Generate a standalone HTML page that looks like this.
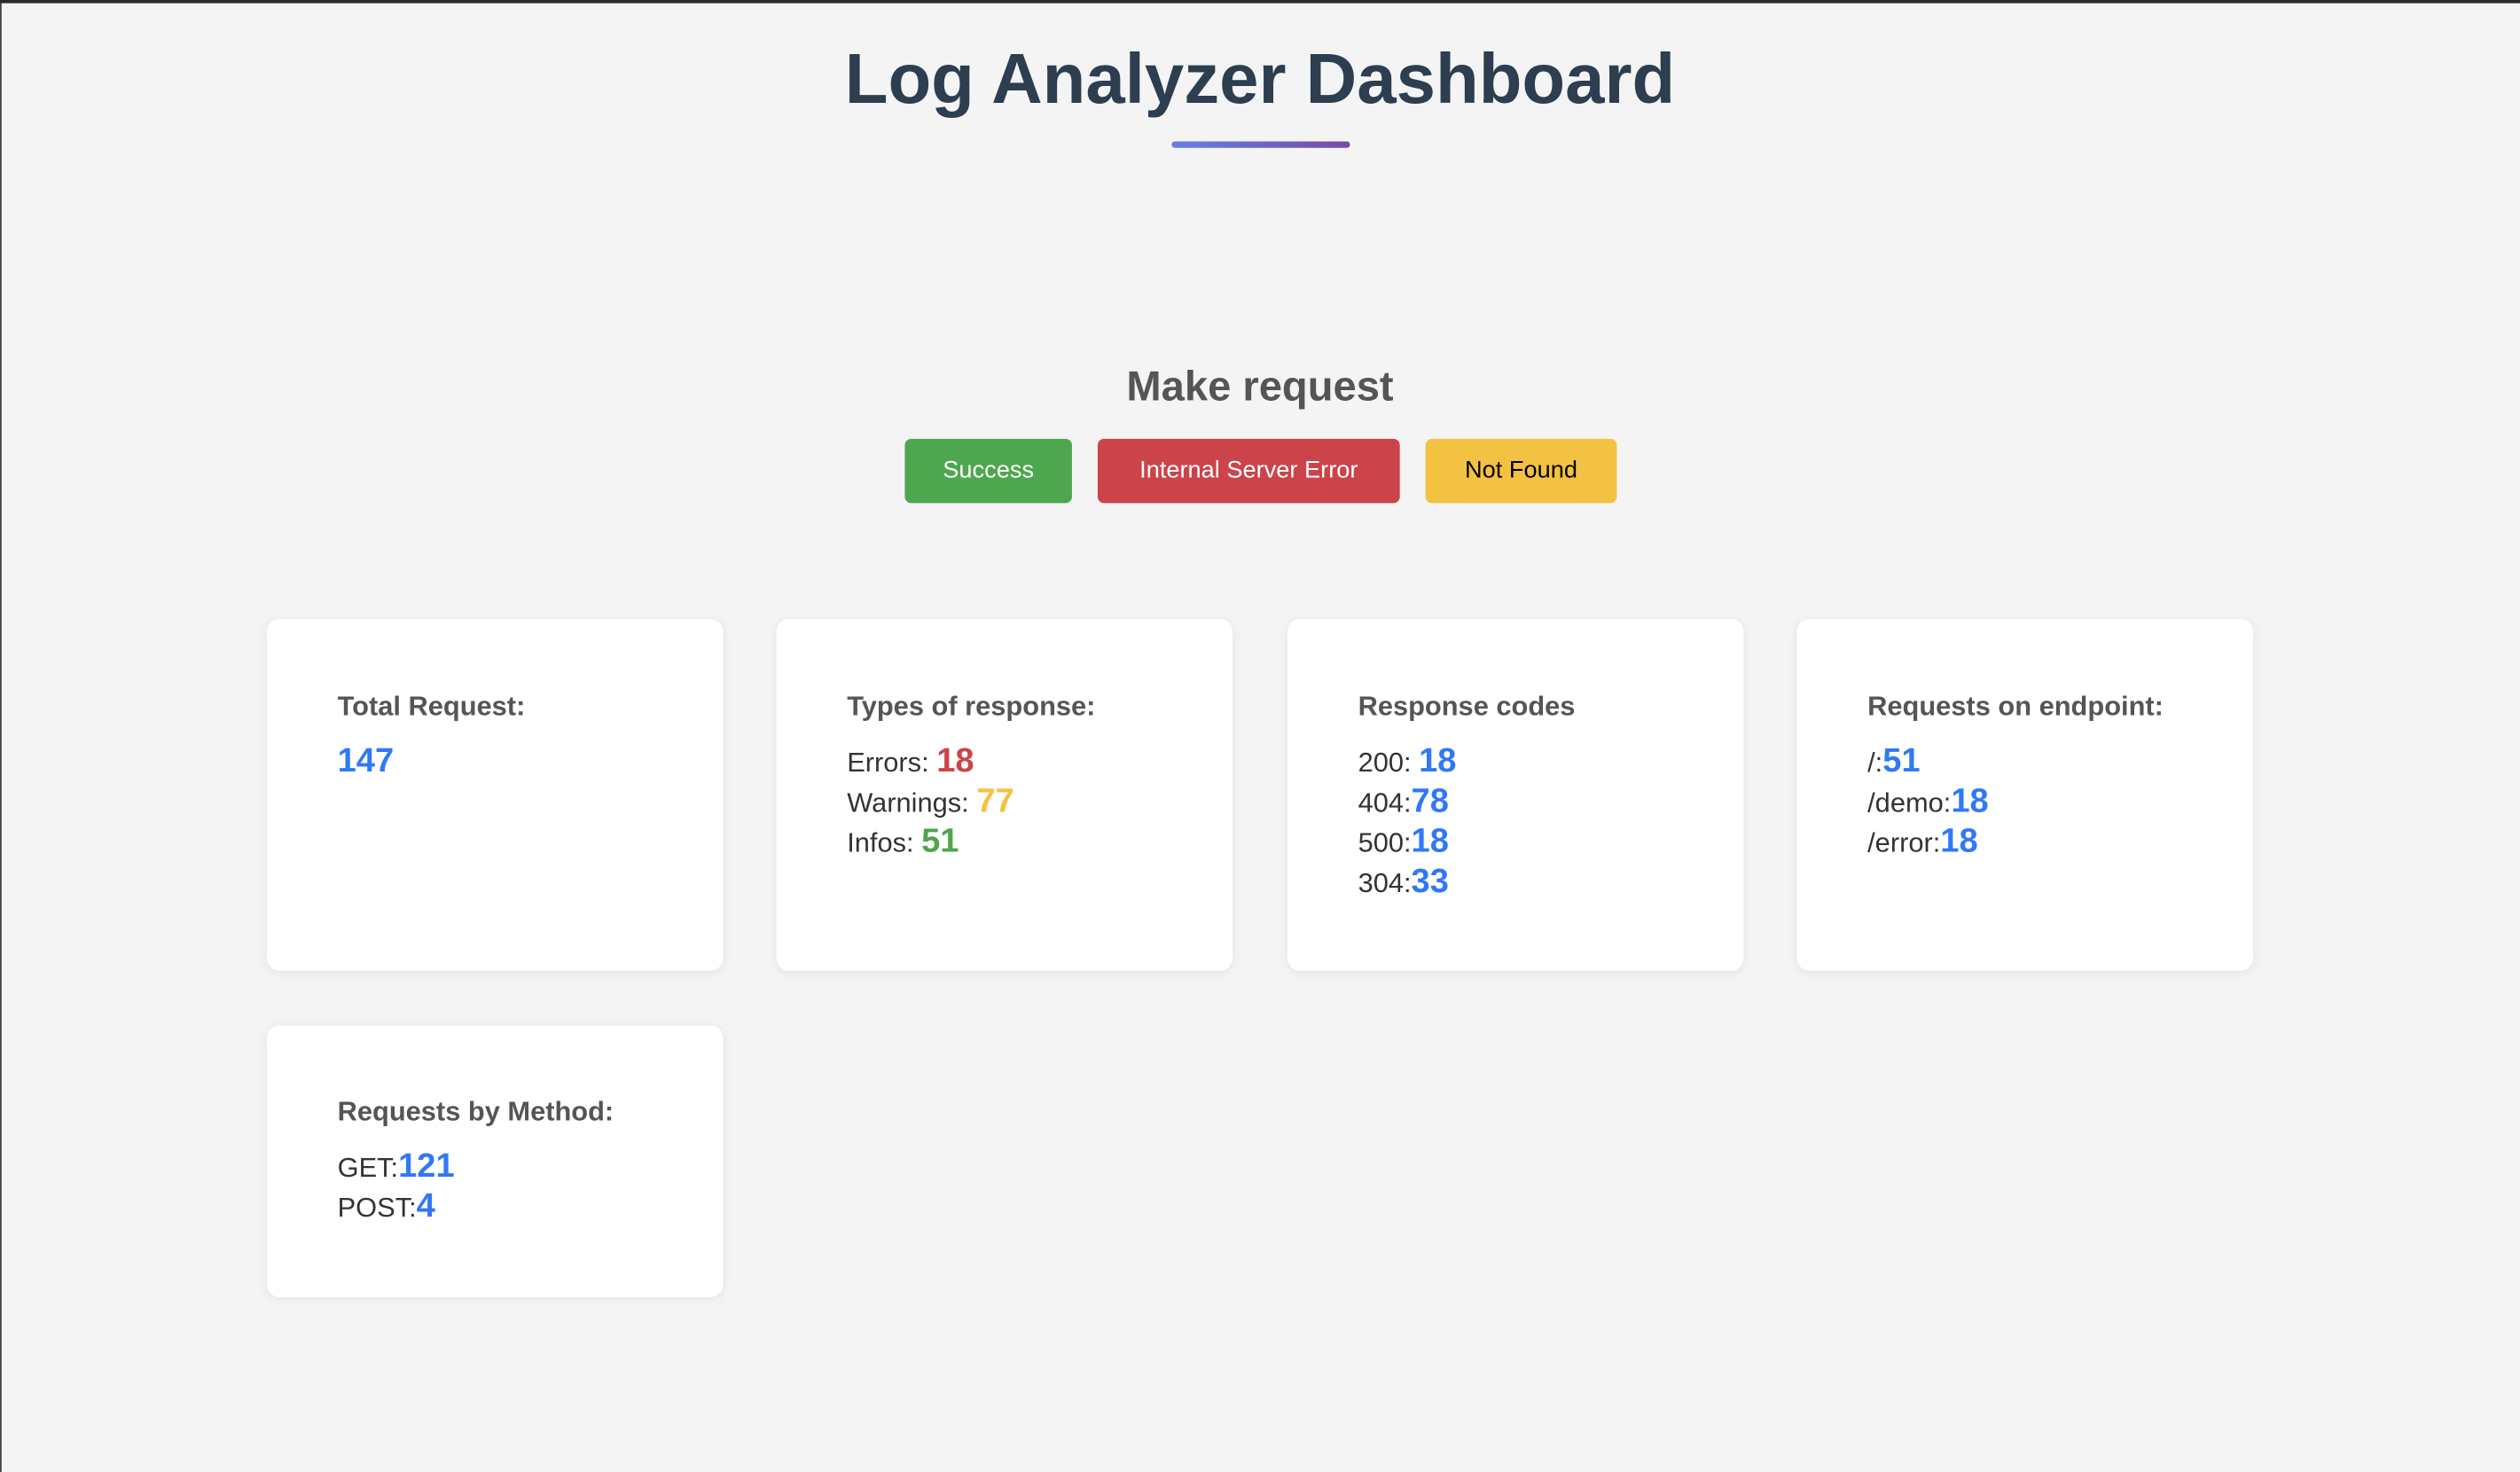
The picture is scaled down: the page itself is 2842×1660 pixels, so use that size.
<!DOCTYPE html>
<html><head><meta charset="utf-8"><style>
html,body{margin:0;padding:0;width:2842px;height:1660px;overflow:hidden;background:#f4f4f4;}
#w{position:absolute;left:0;top:0;width:1568px;height:916px;transform:scale(1.8125);transform-origin:0 0;font-family:"Liberation Sans",Arial,sans-serif;background:#f4f4f4;}
#lb{position:absolute;left:0;top:0;width:1px;height:916px;background:#444;}
#bar{position:absolute;left:0;top:0;width:1568px;height:2px;background:#2a2a30;}
h1{position:absolute;top:22px;left:0;width:1568px;margin:0;text-align:center;font-size:44px;line-height:56px;font-weight:bold;color:#2c3e50;}
#ul{position:absolute;left:729px;top:88px;width:111px;height:4px;border-radius:2px;background:linear-gradient(90deg,#667eea,#764ba2);}
h2{position:absolute;top:224px;left:0;width:1568px;margin:0;text-align:center;font-size:26px;line-height:32px;color:#555;font-weight:bold;}
.btn{position:absolute;top:273px;height:40px;line-height:40px;border-radius:4px;text-align:center;font-size:15px;color:#fff;}
.card{position:absolute;background:#fff;border-radius:8px;box-shadow:0 1px 6px rgba(0,0,0,0.07);box-sizing:border-box;padding:45px 0 0 44px;width:284px;}
.t{font-size:17px;font-weight:bold;color:#555;line-height:20px;margin-bottom:12px;}
.l{font-size:17px;color:#333;line-height:25px;height:25px;}
.b{font-size:21px;font-weight:bold;color:#3178f6;line-height:1;}
.r{color:#cc434a}.y{color:#f4c242}.g{color:#4ea64f}
</style></head><body><div id="w">
<div id="lb"></div>
<div id="bar"></div>
<h1>Log Analyzer Dashboard</h1>
<div id="ul"></div>
<h2>Make request</h2>
<div class="btn" style="left:563px;width:104px;background:#4ea64f">Success</div>
<div class="btn" style="left:683px;width:188px;background:#cc434a">Internal Server Error</div>
<div class="btn" style="left:887px;width:119px;background:#f4c242;color:#000">Not Found</div>

<div class="card" style="left:166px;top:385px;height:219px"><div class="t">Total Request:</div><div class="l"><span class="b">147</span></div></div>
<div class="card" style="left:483px;top:385px;height:219px"><div class="t">Types of response:</div>
<div class="l">Errors: <span class="b r">18</span></div><div class="l">Warnings: <span class="b y">77</span></div><div class="l">Infos: <span class="b g">51</span></div></div>
<div class="card" style="left:801px;top:385px;height:219px"><div class="t">Response codes</div>
<div class="l">200: <span class="b">18</span></div><div class="l">404:<span class="b">78</span></div><div class="l">500:<span class="b">18</span></div><div class="l">304:<span class="b">33</span></div></div>
<div class="card" style="left:1118px;top:385px;height:219px"><div class="t">Requests on endpoint:</div>
<div class="l">/:<span class="b">51</span></div><div class="l">/demo:<span class="b">18</span></div><div class="l">/error:<span class="b">18</span></div></div>
<div class="card" style="left:166px;top:638px;height:169px;padding-top:44px"><div class="t">Requests by Method:</div>
<div class="l">GET:<span class="b">121</span></div><div class="l">POST:<span class="b">4</span></div></div>
</div></body></html>
